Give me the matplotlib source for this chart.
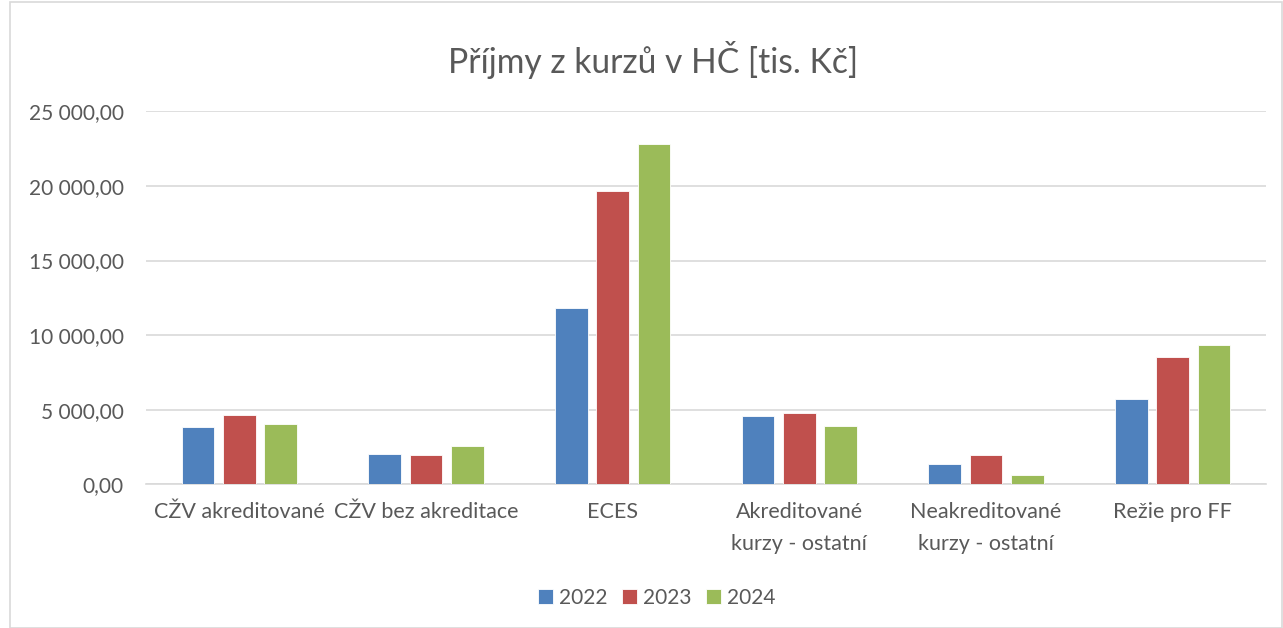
import numpy as np
import matplotlib.pyplot as plt
from matplotlib.ticker import FuncFormatter, MultipleLocator
from matplotlib.patches import Rectangle

# Příjmy z kurzů v HČ [tis. Kč]
categories = ["CŽV akreditované", "CŽV bez akreditace", "ECES",
              "Akreditované\nkurzy - ostatní", "Neakreditované\nkurzy - ostatní",
              "Režie pro FF"]
years = ["2022", "2023", "2024"]
values_2022 = [3820, 2010, 11840, 4600, 1360, 5740]
values_2023 = [4645, 1965, 19640, 4760, 1945, 8510]
values_2024 = [4020, 2590, 22790, 3910, 625, 9315]

colors = ["#4f81bd", "#c0504d", "#9bbb59"]
text_color = "#595959"
grid_color = "#d9d9d9"

plt.rcParams['font.family'] = ['Lato', 'DejaVu Sans']

fig = plt.figure(figsize=(12.83, 6.28), dpi=100)
ax = fig.add_axes([146 / 1283, 1 - 484.3 / 628, 1120 / 1283, 373 / 628])

# chart border like the Excel frame
fig.patches.append(Rectangle((10 / 1283, 0), 1 - 11 / 1283, 1 - 2 / 628,
                             transform=fig.transFigure, fill=False,
                             edgecolor=grid_color, linewidth=1.2))

x = np.arange(len(categories))
slot = 0.221
width = 0.175
for i, (vals, col) in enumerate(zip([values_2022, values_2023, values_2024], colors)):
    ax.bar(x + (i - 1) * slot, vals, width, color=col, label=years[i],
           edgecolor="white", linewidth=0.6, zorder=3)

ax.set_xlim(-0.5, len(categories) - 0.5)
ax.set_ylim(0, 25000)
ax.yaxis.set_major_locator(MultipleLocator(5000))
ax.yaxis.set_major_formatter(FuncFormatter(
    lambda v, p: f"{v:,.2f}".replace(",", " ").replace(".", ",")))
ax.grid(axis="y", color=grid_color, linewidth=1.2, zorder=0)

for s in ["top", "right", "left"]:
    ax.spines[s].set_visible(False)
ax.spines["bottom"].set_color(grid_color)
ax.spines["bottom"].set_linewidth(1.2)

ax.set_xticks(x)
ax.set_xticklabels(categories, fontsize=15.5, color=text_color, linespacing=1.75)
ax.tick_params(axis="x", length=0, pad=13)
ax.tick_params(axis="y", length=0, pad=16, labelsize=15, labelcolor=text_color)
for lab in ax.get_xticklabels():
    lab.set_verticalalignment("top")

fig.text(653 / 1283, 1 - 60 / 628, "Příjmy z kurzů v HČ [tis. Kč]", ha="center", va="center",
         fontsize=24.2, color=text_color)

fig.legend(loc="center", bbox_to_anchor=(657 / 1283, 1 - 598 / 628), ncol=3,
           frameon=False, fontsize=15, handlelength=0.7, handleheight=0.7,
           handletextpad=0.3, columnspacing=0.7, labelcolor=text_color)

fig.savefig("out.png", dpi=100)
